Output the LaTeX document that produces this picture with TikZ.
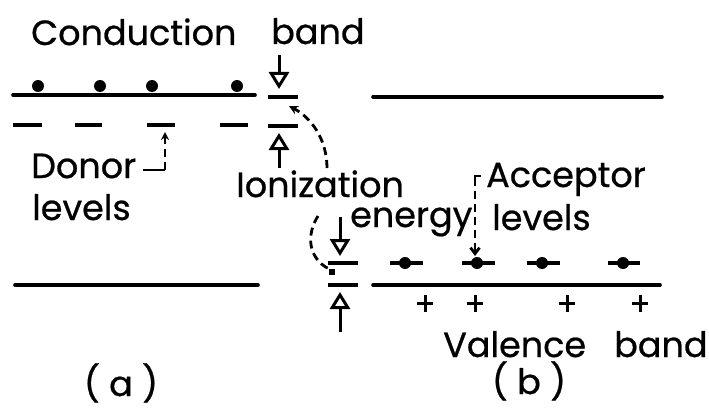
\documentclass[tikz,border=0pt]{standalone}
\usepackage{fontspec}
\setmainfont{Poppins}[FakeBold=0.7]
\usetikzlibrary{arrows.meta}
\begin{document}
\begin{tikzpicture}[x=1pt,y=-1pt,
  band/.style={line width=3.6pt,line cap=round},
  lvl/.style={line width=3.3pt},
  lbl/.style={inner sep=0pt,anchor=base west,font=\fontsize{35}{40}\selectfont},
  ebox/.style={line width=3pt,-{Triangle[open,length=17pt,width=20pt,line width=3pt]}},
  dsh/.style={line width=2.8pt,dash pattern=on 8pt off 5pt},
  dot/.style={circle,fill=black,inner sep=0pt,minimum size=12pt}]
\useasboundingbox (0,0) rectangle (709,409);
% ---------- texts
\node[lbl] (cond) at (31,45) {Conduction};
\node[lbl] (cband) at (271,44) {band};
\node[lbl] (donor) at (31,178) {Donor};
\node[lbl] (dlev) at (32,220) {levels};
\node[lbl] (ion) at (236,197) {Ionization};
\node[lbl] (ene) at (350,227) {energy};
\node[lbl] (acc) at (486,187) {Acceptor};
\node[lbl] (alev) at (492,230) {levels};
\node[lbl] (val) at (443,357) {Valence};
\node[lbl] (vband) at (614,357) {band};
\node[lbl,anchor=base] (la) at (121,396) {( a )};
\node[lbl,anchor=base] (lb) at (529,394) {( b )};
% ---------- (a) bands
\draw[band] (13,95) -- (255,95);
\draw[band] (15,285) -- (258,285);
\foreach \x in {38,100,152,237} \node[dot] at (\x,86) {};
\foreach \a/\b in {13/42,75/102,147/175,220/248} \draw[lvl] (\a,125) -- (\b,125);
% ionization energy (a)
\draw[lvl] (268,97) -- (298,97);
\draw[lvl] (268,126) -- (298,126);
\coordinate (arA1) at (279,55);
\coordinate (arA1t) at (279,89);
\coordinate (arA2) at (279,168);
\coordinate (arA2t) at (279,133);
\draw[ebox] (arA1) -- (arA1t);
\draw[ebox] (arA2) -- (arA2t);
% donor arrow
\coordinate (dA) at (143,170);
\coordinate (dB) at (165,170);
\coordinate (dC) at (165,132);
\draw[line width=2.8pt] (dA) -- (dB);
\draw[dsh,-{Stealth[length=8pt,width=8pt]}] (dB) -- (dC);
% ---------- (b) bands
\draw[band] (373,97) -- (662,97);
\draw[band] (373,285) -- (660,285);
\foreach \a/\b/\c in {390/423/405,462/495/477,527/560/542,608/640/623} {
  \draw[lvl] (\a,263) -- (\b,263);
  \node[dot] at (\c,263) {};
}
\foreach \x in {425,475,567,640} {
  \draw[line width=3pt] (\x-8,303) -- (\x+8,303);
  \draw[line width=3pt] (\x,295) -- (\x,312);
}
% ionization energy (b)
\draw[lvl] (328,263) -- (358,263);
\draw[lvl] (328,285) -- (358,285);
\coordinate (arB1) at (340,217);
\coordinate (arB1t) at (340,256);
\coordinate (arB2) at (340,332);
\coordinate (arB2t) at (340,292);
\draw[ebox] (arB1) -- (arB1t);
\draw[ebox] (arB2) -- (arB2t);
% acceptor arrow
\coordinate (aA) at (481,176);
\coordinate (aB) at (475,178);
\coordinate (aC) at (475,256);
\draw[line width=2.8pt] (aA) -- (475,176) -- (aB);
\draw[dsh,-{Straight Barb[length=6pt,width=9pt]}] (aB) -- (aC);
% curved dashed arrows
\coordinate (cA) at (327,168);
\coordinate (cB) at (289,106);
\draw[dsh,-{Stealth[length=9pt,width=9pt]}] (cA) .. controls (327,138) and (310,117) .. (cB);
\coordinate (cC) at (318,216);
\coordinate (cD) at (329,269);
\draw[dsh] (cC) .. controls (306,235) and (308,258) .. (cD);
\node[fill=black,inner sep=0pt,minimum size=6pt] (sq) at (332,272) {};
\end{tikzpicture}
\end{document}
